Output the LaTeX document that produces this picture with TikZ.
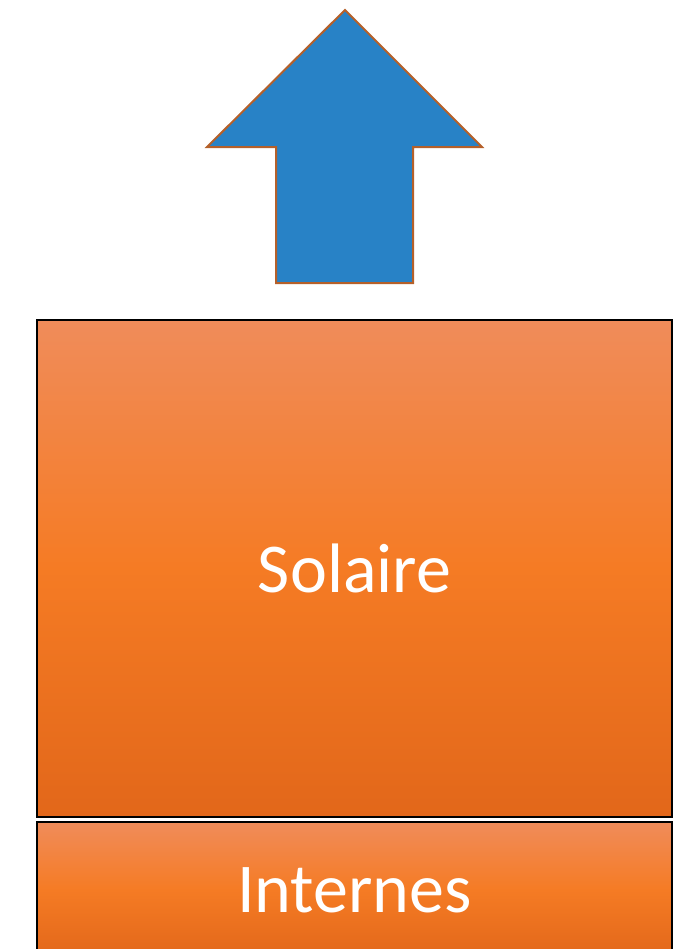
\documentclass[tikz,border=0pt]{standalone}
\usepackage{fontspec}
\setmainfont{Carlito}
\definecolor{arrowblue}{HTML}{2882C6}
\definecolor{arrowrim}{HTML}{B5602A}
\definecolor{orangetop}{HTML}{F08C5A}
\definecolor{orangemid}{HTML}{F57B24}
\definecolor{orangebot}{HTML}{E2671A}
\pgfdeclareverticalshading{partshade}{100bp}{color(0bp)=(orangebot); color(25bp)=(orangebot);
    color(50bp)=(orangemid); color(75bp)=(orangetop); color(100bp)=(orangetop)}
\begin{document}
\begin{tikzpicture}[x=0.75pt, y=-0.75pt]
        \useasboundingbox (0,0) rectangle (693,949);
        \clip (0,0) rectangle (693,949);

        \begin{scope}[
            part/.style={draw=black, line width=1.5pt, shading=partshade,
                minimum width=476.25pt, text=white,
                font=\fontsize{52.5}{63}\selectfont}]
            \node[part, minimum height=372.75pt] (solaire) at (354.5, 568.5) {Solaire};
            \node[part, minimum height=102pt] (internes) at (354.5, 890) {Internes};
        \end{scope}

        \begin{scope}[
            every path/.style={fill=arrowblue, draw=arrowrim, line width=1.5pt}]
            \coordinate (tip) at (345, 10);
            \path (tip) -- (482, 147) -- (413, 147) -- (413, 283)
                -- (276, 283) -- (276, 147) -- (207, 147) -- cycle;
        \end{scope}

        \end{tikzpicture}
\end{document}
